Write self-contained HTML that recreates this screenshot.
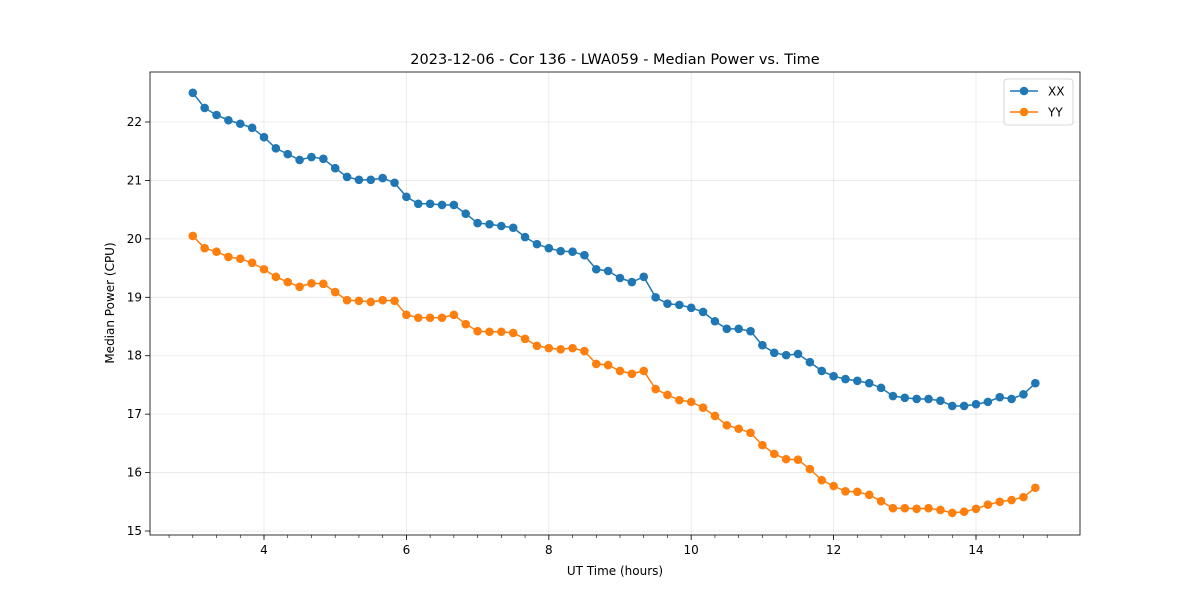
<!DOCTYPE html>
<html><head><meta charset="utf-8"><style>
body{margin:0;background:#fff}
svg text{font-family:"DejaVu Sans","Liberation Sans",sans-serif;fill:#000}
</style></head><body>
<svg id="chart" width="1200" height="600"></svg>
<script>
const startHour = 3.0;
const stepHour = 1/6;
const xxValues = [22.50,22.24,22.12,22.03,21.97,21.90,21.74,21.55,21.45,21.35,21.40,21.37,21.21,21.06,21.01,21.01,21.04,20.96,20.72,20.60,20.60,20.58,20.58,20.43,20.27,20.25,20.22,20.19,20.03,19.91,19.84,19.79,19.78,19.72,19.48,19.45,19.33,19.26,19.35,19.00,18.89,18.87,18.82,18.75,18.59,18.46,18.46,18.42,18.18,18.05,18.01,18.03,17.89,17.74,17.65,17.60,17.57,17.53,17.45,17.31,17.28,17.26,17.26,17.23,17.14,17.14,17.17,17.21,17.29,17.26,17.34,17.53];
const yyValues = [20.05,19.84,19.78,19.69,19.66,19.59,19.48,19.35,19.26,19.18,19.24,19.23,19.09,18.95,18.94,18.92,18.95,18.94,18.70,18.65,18.65,18.65,18.70,18.54,18.42,18.41,18.41,18.39,18.29,18.17,18.13,18.11,18.13,18.08,17.86,17.84,17.74,17.69,17.74,17.43,17.33,17.24,17.21,17.11,16.97,16.81,16.75,16.68,16.47,16.32,16.23,16.22,16.06,15.87,15.77,15.68,15.67,15.62,15.51,15.39,15.39,15.38,15.39,15.36,15.31,15.33,15.38,15.45,15.50,15.53,15.58,15.74];
const xTicks = [4,6,8,10,12,14];
const yTicks = [15,16,17,18,19,20,21,22];

const L=150,R=1080,T=72,B=535;
const xs = h => 264 + (h-4)*71.2;
const ys = v => 122 + (22-v)*58.43;
const NS="http://www.w3.org/2000/svg";
const svg=document.getElementById('chart');
function mk(tag,attrs,parent){const e=document.createElementNS(NS,tag);for(const k in attrs)e.setAttribute(k,attrs[k]);(parent||svg).appendChild(e);return e;}

const grid=mk('g',{});


xTicks.forEach(t=>{const x=xs(t);mk('line',{x1:x,x2:x,y1:T,y2:B,stroke:'#b0b0b0','stroke-opacity':0.3,'stroke-width':0.8},grid);
 mk('line',{x1:x,x2:x,y1:B,y2:B+5,stroke:'#000','stroke-width':0.8});
 const tx=mk('text',{x:x,y:B+19,'text-anchor':'middle','font-size':12});tx.textContent=t;
 
 });
for(let m=8/3;m<=15.3;m+=1/3){const x=xs(m);if(x<L||x>R)continue;mk('line',{x1:x,x2:x,y1:B,y2:B+3,stroke:'#000','stroke-width':0.6});}
yTicks.forEach(t=>{const y=ys(t);mk('line',{x1:L,x2:R,y1:y,y2:y,stroke:'#b0b0b0','stroke-opacity':0.3,'stroke-width':0.8},grid);
 mk('line',{x1:L-5,x2:L,y1:y,y2:y,stroke:'#000','stroke-width':0.8});
 const tx=mk('text',{x:L-8,y:y+4,'text-anchor':'end','font-size':12});tx.textContent=t;
 
 });

function series(vals,color,name){
 const g=mk('g',{});
 
 
 const pts=vals.map((v,i)=>xs(startHour+i*stepHour)+','+ys(v)).join(' ');
 mk('polyline',{points:pts,fill:'none',stroke:color,'stroke-width':1.5},g);
 vals.forEach((v,i)=>{const c=mk('circle',{cx:xs(startHour+i*stepHour),cy:ys(v),r:4.3,fill:color},g);
  
  });
}
series(xxValues,'#1f77b4','series-xx');
series(yyValues,'#ff7f0e','series-yy');

const frame=mk('rect',{x:L,y:T,width:R-L,height:B-T,fill:'none',stroke:'#000','stroke-width':0.8});



const title=mk('text',{x:615,y:64,'text-anchor':'middle','font-size':14.5});
title.textContent='2023-12-06 - Cor 136 - LWA059 - Median Power vs. Time';


const xl=mk('text',{x:615,y:575,'text-anchor':'middle','font-size':12});
xl.textContent='UT Time (hours)';


const yl=mk('text',{x:114,y:303,'text-anchor':'middle','font-size':12,transform:'rotate(-90 114 303)'});
yl.textContent='Median Power (CPU)';



const leg=mk('g',{});


mk('rect',{x:1004,y:79,width:69,height:46,rx:3,fill:'#fff',stroke:'#ccc','stroke-width':0.8},leg);
[['XX','#1f77b4',91],['YY','#ff7f0e',112]].forEach(([n,c,y])=>{
 const e=mk('g',{},leg);
 
 
 mk('line',{x1:1010,x2:1038,y1:y,y2:y,stroke:c,'stroke-width':1.5},e);
 mk('circle',{cx:1024,cy:y,r:4.3,fill:c},e);
 const t=mk('text',{x:1048,y:y+4.5,'font-size':12},e);t.textContent=n;
});
</script>
</body></html>
